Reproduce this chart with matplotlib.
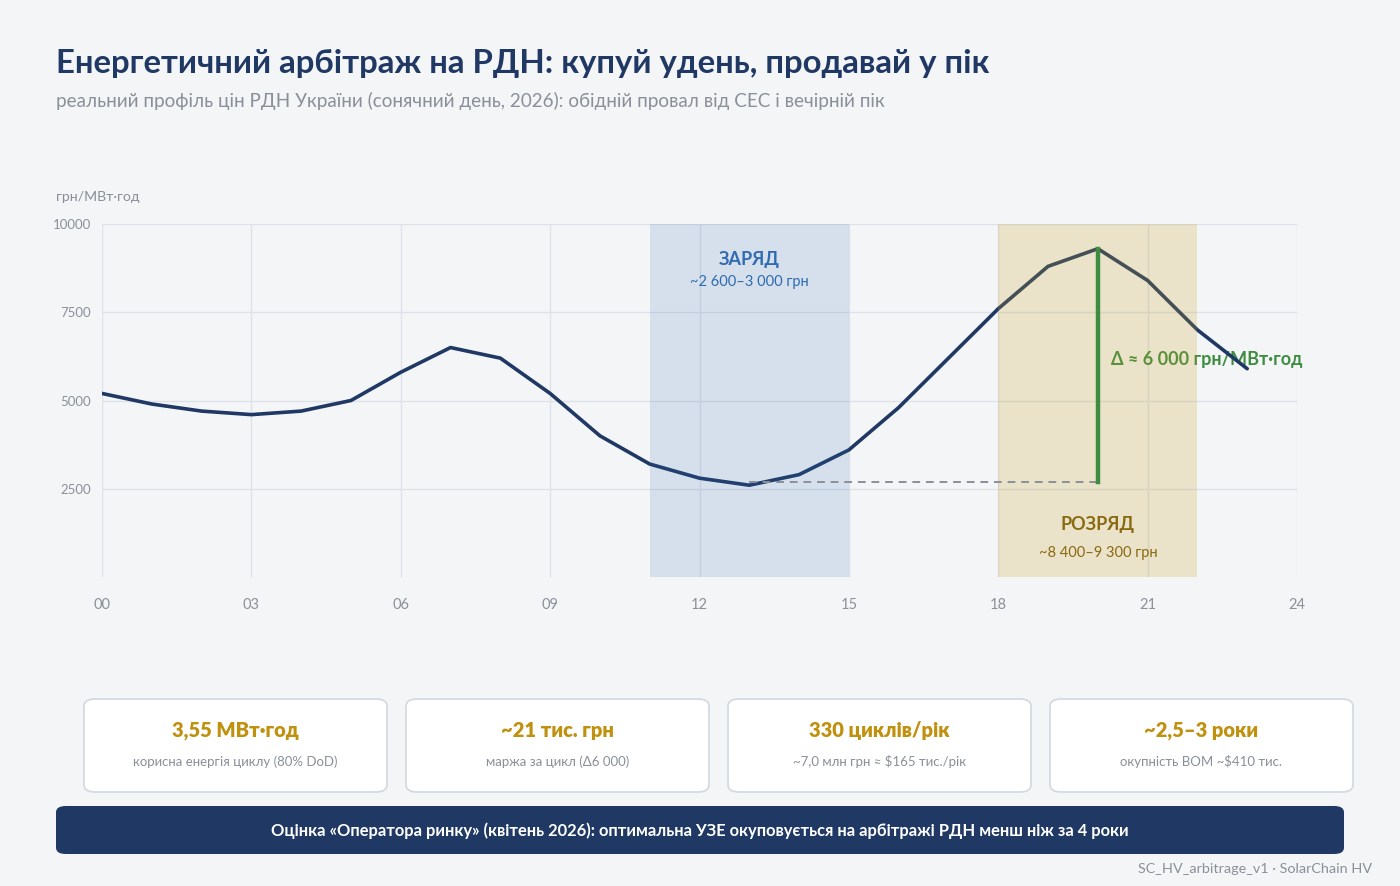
import numpy as np
import matplotlib.pyplot as plt
from matplotlib.patches import FancyBboxPatch

plt.rcParams['font.family'] = ['Lato', 'Noto Sans', 'DejaVu Sans']

# hourly day-ahead price profile, UAH/MWh
hours = np.arange(24)
price = [5200, 4900, 4700, 4600, 4700, 5000, 5800, 6500, 6200, 5200, 4000, 3200,
         2800, 2600, 2900, 3600, 4800, 6200, 7600, 8800, 9300, 8400, 7000, 5900]

charge_window = (11, 15)
discharge_window = (18, 22)
buy_level = 2700
sell_hour = 20
sell_level = 9300
buy_hour = 13

xticks = [0, 3, 6, 9, 12, 15, 18, 21, 24]
yticks = [2500, 5000, 7500, 10000]

card_values = ["3,55 МВт·год", "~21 тис. грн", "330 циклів/рік", "~2,5–3 роки"]
card_notes = ["корисна енергія циклу (80% DoD)", "маржа за цикл (Δ6 000)",
              "~7,0 млн грн ≈ $165 тис./рік", "окупність BOM ~$410 тис."]

NAVY = "#1f3864"
BG = "#f4f5f7"
GRID = "#dde1e8"
GRAY = "#8a9099"
BLUE = "#2e6bb0"
TAN = "#c9a227"
GOLD = "#c0900f"
BROWN = "#8a6a10"
GREEN = "#3d8c40"

fig = plt.figure(figsize=(14, 8.86), dpi=100)
fig.patch.set_facecolor(BG)

ax = fig.add_axes([102/1400, 1-577/886, (1297-102)/1400, (577-224)/886])
ax.set_facecolor(BG)
ax.plot(hours, price, color=NAVY, lw=2.6, zorder=3, solid_capstyle='round')
ax.axvspan(*charge_window, color=BLUE, alpha=0.15, lw=0, zorder=4)
ax.axvspan(*discharge_window, color=TAN, alpha=0.22, lw=0, zorder=4)

ax.plot([buy_hour, sell_hour], [buy_level, buy_level], color="#8a8f99", lw=1.4,
        ls=(0, (4, 3)), zorder=5)
ax.plot([sell_hour, sell_hour], [buy_level, sell_level], color=GREEN, lw=3.2, zorder=5)

ax.text(13, 9000, "ЗАРЯД", color=BLUE, fontsize=13, fontweight='bold', ha='center', va='center', zorder=6)
ax.text(13, 8350, "~2 600–3 000 грн", color=BLUE, fontsize=10.5, ha='center', va='center', zorder=6)
ax.text(20, 1500, "РОЗРЯД", color=BROWN, fontsize=13, fontweight='bold', ha='center', va='center', zorder=6)
ax.text(20, 680, "~8 400–9 300 грн", color=BROWN, fontsize=10.5, ha='center', va='center', zorder=6)
ax.text(20.26, 6170, "Δ ≈ 6 000 грн/МВт·год", color=GREEN, fontsize=13, fontweight='bold',
        ha='left', va='center', zorder=2)

ax.set_xlim(0, 24)
ax.set_ylim(0, 10000)
ax.set_xticks(xticks)
ax.set_xticklabels([f"{h:02d}" for h in xticks])
ax.set_yticks(yticks)
ax.set_yticklabels([str(v) for v in yticks])
ax.grid(True, color=GRID, lw=1, zorder=0)
ax.tick_params(length=0, colors=GRAY, labelsize=9.5)
ax.tick_params(axis='x', pad=15, labelsize=10.5)
ax.tick_params(axis='y', pad=8)
for s in ax.spines.values():
    s.set_visible(False)

fig.text(56/1400, 1-197/886, "грн/МВт·год", color=GRAY, fontsize=10.2, ha='left', va='center')

fig.text(56/1400, 1-63/886, "Енергетичний арбітраж на РДН: купуй удень, продавай у пік",
         color=NAVY, fontsize=23.7, fontweight='bold', ha='left', va='center')
fig.text(56/1400, 1-101/886, "реальний профіль цін РДН України (сонячний день, 2026): обідній провал від СЕС і вечірній пік",
         color=GRAY, fontsize=13.6, ha='left', va='center')

# KPI cards
for i, (val, note) in enumerate(zip(card_values, card_notes)):
    x0 = 84 + i * 322
    card = FancyBboxPatch((x0/1400, 1-792/886), 303/1400, 93/886,
                          boxstyle="round,pad=0,rounding_size=0.008",
                          transform=fig.transFigure, facecolor="white",
                          edgecolor="#d5dae2", lw=1.3)
    fig.patches.append(card)
    cx = (x0 + 151.5) / 1400
    fig.text(cx, 1-731/886, val, color=GOLD, fontsize=14.5, fontweight='heavy', ha='center', va='center')
    fig.text(cx, 1-762/886, note, color=GRAY, fontsize=9.5, ha='center', va='center')

banner = FancyBboxPatch((56/1400, 1-854/886), 1288/1400, 48/886,
                        boxstyle="round,pad=0,rounding_size=0.007",
                        transform=fig.transFigure, facecolor=NAVY, edgecolor='none')
fig.patches.append(banner)
fig.text(700/1400, 1-831/886,
         "Оцінка «Оператора ринку» (квітень 2026): оптимальна УЗЕ окуповується на арбітражі РДН менш ніж за 4 роки",
         color="white", fontsize=11.9, fontweight='bold', ha='center', va='center')

fig.text(1372/1400, 1-869/886, "SC_HV_arbitrage_v1 · SolarChain HV", color=GRAY, fontsize=10.4,
         ha='right', va='center')

fig.savefig("out.png", dpi=100, facecolor=BG)
